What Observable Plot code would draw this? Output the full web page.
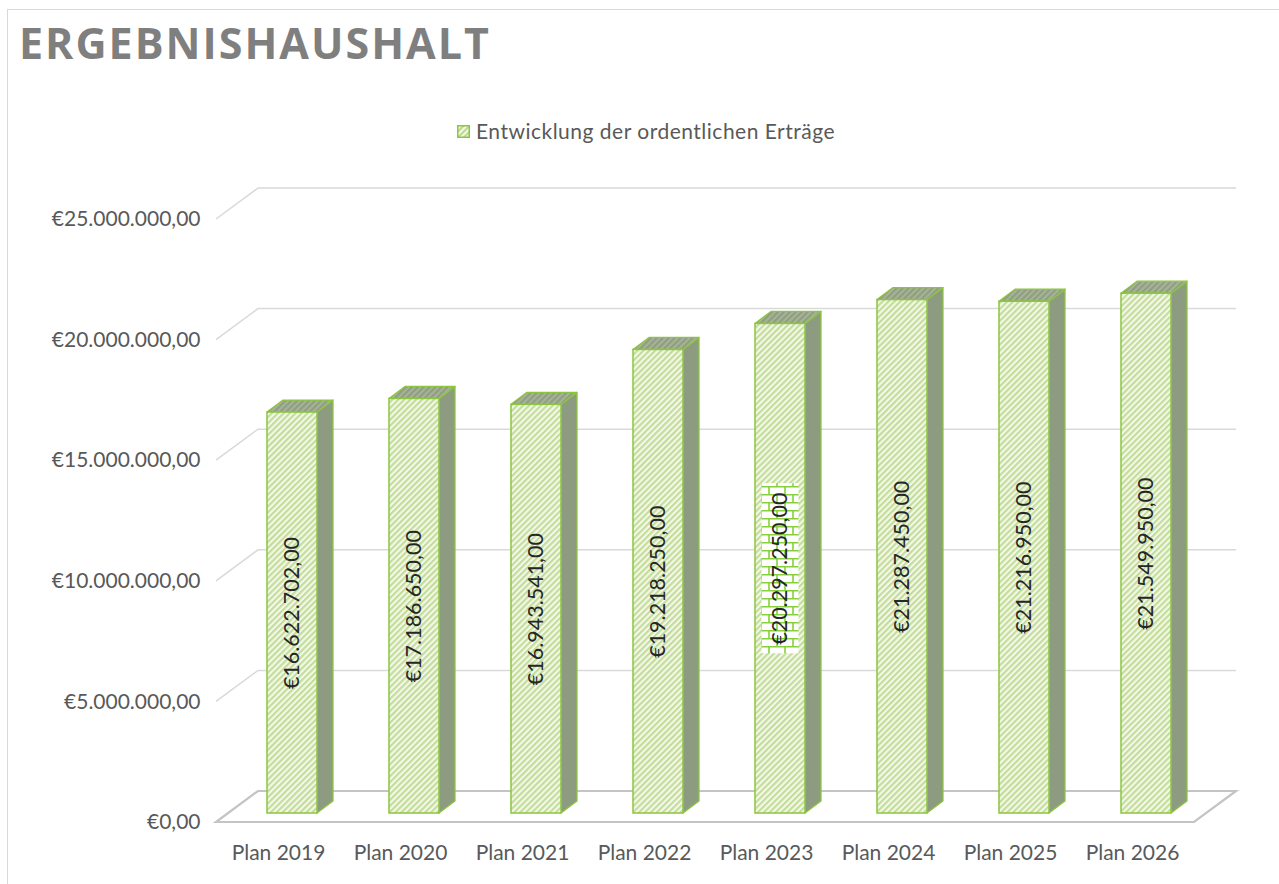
<!DOCTYPE html>
<html>
<head>
<meta charset="utf-8">
<script src="https://cdn.jsdelivr.net/npm/d3@7"></script>
<script src="https://cdn.jsdelivr.net/npm/@observablehq/plot@0.6"></script>
<style>
  html, body { margin: 0; padding: 0; background: #fff; }
  body { width: 1279px; height: 884px; position: relative; overflow: hidden; font-family: Lato, "Open Sans", sans-serif; }
  #frame { position: absolute; left: 7px; top: 9px; width: 1290px; height: 900px; border: 1.5px solid #d9d9d9; box-sizing: border-box; }
  #title { position: absolute; left: 19px; top: 21px; font-family: "Open Sans", sans-serif; font-weight: bold; font-size: 43px; line-height: 43px; letter-spacing: 2px; color: #7f7f7f; }
  #legend { position: absolute; left: 457px; top: 120px; display: flex; align-items: center; font-size: 21px; line-height: 22px; letter-spacing: 0.5px; color: #595959; }
  #legend svg { margin-right: 6px; }
  #chart { position: absolute; left: 0; top: 150px; }
</style>
</head>
<body>
<div id="frame"></div>
<div id="title">ERGEBNISHAUSHALT</div>
<div id="legend"><svg width="13" height="13"><defs><pattern id="lhatch" patternUnits="userSpaceOnUse" width="4.2" height="4.2" patternTransform="rotate(45)"><rect width="4.2" height="4.2" fill="#f3f8ea"/><rect width="2.1" height="4.2" fill="#b9d88a"/></pattern></defs><rect x="0.75" y="0.75" width="11.5" height="11.5" fill="url(#lhatch)" stroke="#8cc63f" stroke-width="1.5"/></svg><span>Entwicklung der ordentlichen Erträge</span></div>
<div id="chart"></div>
<script>
// ---- data ----
const categories = ["Plan 2019", "Plan 2020", "Plan 2021", "Plan 2022", "Plan 2023", "Plan 2024", "Plan 2025", "Plan 2026"];
const values = [16622702, 17186650, 16943541, 19218250, 20297250, 21287450, 21216950, 21549950];
const yTicks = [0, 5000000, 10000000, 15000000, 20000000, 25000000];
const highlighted = "Plan 2023";

const de = d3.formatLocale({decimal: ",", thousands: ".", grouping: [3], currency: ["€", ""]});
const euro = de.format("$,.2f");
const data = categories.map((c, i) => ({cat: c, value: values[i], label: euro(values[i])}));

// 3D offsets (styling)
const FX = 14, FY = -9;   // front face of bars (depth position)
const SX = 16, SY = -12;  // bar depth
const BX = 42, BY = -31;  // back wall depth

const green = "#8cc63f";

function grid(index, scales, vals, dim) {
  const y = scales.y;
  const g = d3.create("svg:g").attr("fill", "none");
  const left = dim.marginLeft, right = dim.width - dim.marginRight;
  for (const t of yTicks) {
    const py = y(t);
    if (t === 0) {
      g.append("path")
        .attr("d", `M${left},${py}L${left + BX},${py + BY}L${right + BX},${py + BY}L${right},${py}Z`)
        .attr("stroke", "#c4c4c4").attr("stroke-width", 2.2).attr("fill", "#fff");
    } else {
      g.append("path")
        .attr("d", `M${left},${py}L${left + BX},${py + BY}L${right + BX},${py + BY}`)
        .attr("stroke", "#d9d9d9").attr("stroke-width", 1.5);
    }
  }
  return g.node();
}

function faces(index, scales) {
  const {x, y} = scales;
  const bw = x.bandwidth();
  const g = d3.create("svg:g").attr("stroke", green).attr("stroke-width", 1.3).attr("stroke-linejoin", "round");
  for (const d of data) {
    const x1 = x(d.cat) + FX, x2 = x1 + bw;
    const yb = y(0) + FY, yt = y(d.value) + FY;
    g.append("path")
      .attr("d", `M${x2},${yb}L${x2},${yt}L${x2 + SX},${yt + SY}L${x2 + SX},${yb + SY}Z`)
      .attr("fill", "#8d9c80");
    g.append("path")
      .attr("d", `M${x1},${yt}L${x2},${yt}L${x2 + SX},${yt + SY}L${x1 + SX},${yt + SY}Z`)
      .attr("fill", "url(#tophatch)");
  }
  return g.node();
}

function labelBox(index, scales) {
  const {x, y} = scales;
  const bw = x.bandwidth();
  const g = d3.create("svg:g");
  for (const d of data.filter(d => d.cat === highlighted)) {
    const cx = x(d.cat) + bw / 2 + FX;
    const cy = y(d.value / 2) + FY;
    g.append("rect").attr("x", cx - 18.5).attr("y", cy - 85).attr("width", 37).attr("height", 170)
      .attr("fill", "url(#brick)");
  }
  return g.node();
}

const svg = Plot.plot({
  width: 1279,
  height: 734,
  marginLeft: 216,
  marginRight: 85,
  marginTop: 69,
  marginBottom: 62,
  style: {fontFamily: "Lato, 'Open Sans', sans-serif", background: "transparent", overflow: "visible"},
  x: {type: "band", domain: categories, paddingInner: 0.59, paddingOuter: 0.295, label: null},
  y: {domain: [0, 25000000], label: null},
  marks: [
    grid,
    Plot.axisY(yTicks, {tickSize: 0, tickPadding: 16, tickFormat: euro, fontSize: 21, fill: "#595959", label: null}),
    Plot.axisX({tickSize: 0, tickPadding: 23, fontSize: 21, fill: "#595959", label: null}),
    faces,
    Plot.barY(data, {x: "cat", y: "value", dx: FX, dy: FY, fill: "url(#hatch)", stroke: green, strokeWidth: 1.5}),
    labelBox,
    Plot.text(data, {x: "cat", y: d => d.value / 2, text: "label", rotate: -90, dx: FX, dy: FY, fontSize: 21.5, fill: "#262626"})
  ]
});

const defs = d3.select(svg).insert("defs", ":first-child");
const hatchPat = defs.append("pattern").attr("id", "hatch").attr("patternUnits", "userSpaceOnUse")
  .attr("width", 4.2).attr("height", 4.2).attr("patternTransform", "rotate(45)");
hatchPat.append("rect").attr("width", 4.2).attr("height", 4.2).attr("fill", "#f3f8ea");
hatchPat.append("rect").attr("width", 2.1).attr("height", 4.2).attr("fill", "#c3dd98");
const topPat = defs.append("pattern").attr("id", "tophatch").attr("patternUnits", "userSpaceOnUse")
  .attr("width", 4.2).attr("height", 4.2).attr("patternTransform", "rotate(45)");
topPat.append("rect").attr("width", 4.2).attr("height", 4.2).attr("fill", "#a7b396");
topPat.append("rect").attr("width", 2.1).attr("height", 4.2).attr("fill", "#8f9d80");
const brickPat = defs.append("pattern").attr("id", "brick").attr("patternUnits", "userSpaceOnUse")
  .attr("width", 16).attr("height", 16);
brickPat.append("rect").attr("width", 16).attr("height", 16).attr("fill", "#fff");
brickPat.append("path").attr("d", "M0,0.75H16M0,8.75H16M1,0V8M9,8V16")
  .attr("stroke", "#86d03c").attr("stroke-width", 1.6).attr("fill", "none");

document.getElementById("chart").appendChild(svg);
</script>
</body>
</html>
